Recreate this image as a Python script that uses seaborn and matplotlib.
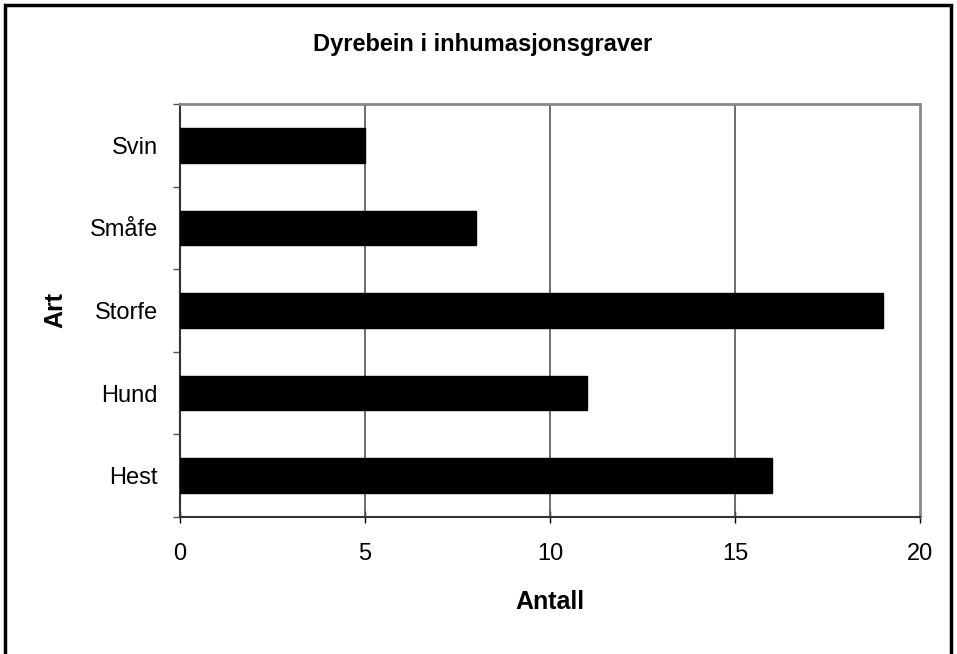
import matplotlib
matplotlib.use("Agg")
import matplotlib.pyplot as plt
import seaborn as sns
import pandas as pd
from matplotlib.patches import Rectangle
from matplotlib.ticker import FixedLocator

categories = ["Svin", "Småfe", "Storfe", "Hund", "Hest"]
values = [5, 8, 19, 11, 16]
xticks = [0, 5, 10, 15, 20]

sns.set_theme(style="white")
plt.rcParams['font.family'] = ['Liberation Sans', 'DejaVu Sans']
plt.rcParams['text.color'] = 'black'
plt.rcParams['axes.labelcolor'] = 'black'
plt.rcParams['xtick.color'] = 'black'
plt.rcParams['ytick.color'] = 'black'

df = pd.DataFrame({"Art": categories, "Antall": values})

fig = plt.figure(figsize=(9.57, 6.54), dpi=100)
fig.patch.set_facecolor("white")
ax = fig.add_axes([180/957, 1-517/654, 740/957, 413/654])

sns.barplot(data=df, y="Art", x="Antall", order=categories, orient="h",
            color="black", width=0.42, ax=ax, saturation=1, zorder=3)
for p in ax.patches:
    p.set_edgecolor("black")

ax.set_xlim(0, 20)
ax.set_ylim(len(categories) - 0.5, -0.5)
ax.set_xticks(xticks)
ax.set_xticklabels([str(t) for t in xticks], fontsize=17)
ax.tick_params(axis="x", which="major", bottom=True, direction="inout", length=9, width=1,
               color="black", pad=14, labelcolor="black")
ax.tick_params(axis="y", which="major", left=True, length=0, pad=16, labelsize=17,
               labelcolor="black")
ax.yaxis.set_minor_locator(FixedLocator([i - 0.5 for i in range(len(categories) + 1)]))
ax.tick_params(axis="y", which="minor", left=True, direction="out", length=5, width=1,
               color="#555555")

for t in xticks[1:-1]:
    ax.axvline(t, color="#555555", lw=1.2, zorder=1)

for s in ["left", "bottom"]:
    ax.spines[s].set_color("#333333")
    ax.spines[s].set_linewidth(1.5)
for s in ["top", "right"]:
    ax.spines[s].set_color("#888888")
    ax.spines[s].set_linewidth(2)

ax.set_xlabel("Antall", fontsize=18, fontweight="bold", labelpad=18, color="black")
ax.set_ylabel("Art", fontsize=18, fontweight="bold", labelpad=16, color="black")
fig.text(483/957, 1-45/654, "Dyrebein i inhumasjonsgraver", ha="center", va="center",
         fontsize=17, fontweight="bold", color="black")

fig.patches.append(Rectangle((5/957, -0.05), 946/957, 1.05 - 5/654, transform=fig.transFigure,
                             fill=False, edgecolor="black", lw=2.5))

fig.savefig("out.png", dpi=100, facecolor="white")
